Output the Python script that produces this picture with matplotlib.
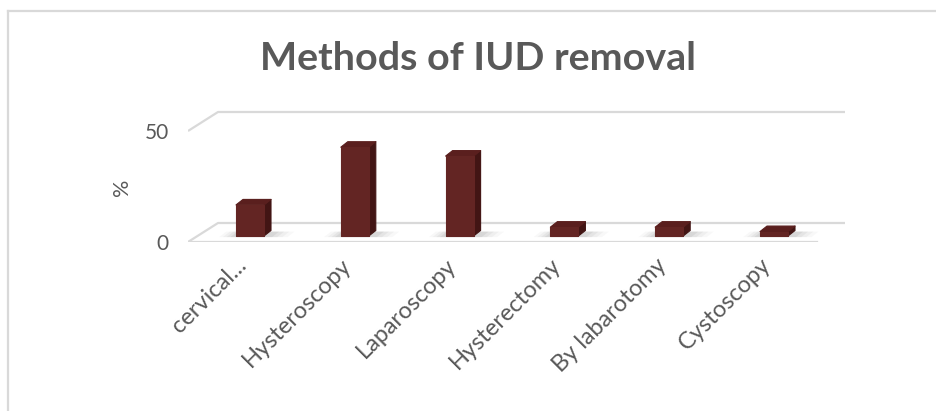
import matplotlib
matplotlib.use("Agg")
import matplotlib.pyplot as plt
from matplotlib.patches import Polygon
from matplotlib.lines import Line2D
from matplotlib.transforms import ScaledTranslation

# データ
methods = ["cervical...", "Hysteroscopy", "Laparoscopy", "Hysterectomy", "By labarotomy", "Cystoscopy"]
percent = [14, 40, 36, 4, 4, 2]
y_ticks = [0, 50]

plt.rcParams['font.family'] = ['Lato', 'DejaVu Sans']
text_color = '#595959'
grid_color = '#d9d9d9'

W, H = 937, 411
fig = plt.figure(figsize=(W / 100, H / 100), dpi=100)

# 描画領域 (ピクセルで指定)
px_left, px_right, px_bottom, px_top = 188, 845, 242, 100
ax = fig.add_axes([px_left / W, 1 - px_bottom / H, (px_right - px_left) / W, (px_bottom - px_top) / H])
cat_px = 104.8          # 1カテゴリのピクセル幅
val_px = 2.22           # 1%のピクセル高さ
x_first = 250           # 最初の棒の中心
xmin = (px_left - x_first) / cat_px
xmax = (px_right - x_first) / cat_px
ymax = (px_bottom - px_top) / val_px
ax.set_xlim(xmin, xmax)
ax.set_ylim(0, ymax)
for s in ax.spines.values():
    s.set_visible(False)
ax.patch.set_alpha(0)

# 奥行き (床と壁)
depth_dx = 30 / cat_px
depth_dy = 19 / val_px
front_right = (817 - x_first) / cat_px
for v in y_ticks:
    ax.plot([xmin, xmin + depth_dx, xmax], [v, v + depth_dy, v + depth_dy],
            color=grid_color, lw=1.6, solid_capstyle='butt', zorder=1)
ax.plot([xmin, front_right], [0, 0], color=grid_color, lw=1.6, zorder=1)

# 棒 (疑似3D)
w = 28 / cat_px
bdx = 7 / cat_px
bdy = 5.5 / val_px
base = 6 / val_px
front_c = '#632523'
side_c = '#421514'
top_c = '#5a1f1e'
for i, v in enumerate(percent):
    x0, x1 = i - w / 2, i + w / 2
    y0, y1 = base, base + v
    # 影
    for k, a in enumerate([0.05, 0.07, 0.09, 0.12]):
        e = 0.16 - k * 0.035
        ax.add_patch(Polygon([(x0 - e, y0 - 0.5), (x1 + e * 1.4, y0 - 0.5),
                              (x1 + e * 1.4 + bdx, y0 + bdy * 0.8), (x0 - e + bdx, y0 + bdy * 0.8)],
                             closed=True, fc='#7f7f7f', ec='none', alpha=a, zorder=2))
    ax.add_patch(Polygon([(x0, y0), (x1, y0), (x1, y1), (x0, y1)], closed=True,
                         fc=front_c, ec=front_c, lw=0.8, joinstyle='round', zorder=4))
    ax.add_patch(Polygon([(x1, y0), (x1 + bdx, y0 + bdy), (x1 + bdx, y1 + bdy), (x1, y1)], closed=True,
                         fc=side_c, ec=side_c, lw=0.8, joinstyle='round', zorder=3))
    ax.add_patch(Polygon([(x0, y1), (x1, y1), (x1 + bdx, y1 + bdy), (x0 + bdx, y1 + bdy)], closed=True,
                         fc=top_c, ec=top_c, lw=0.8, joinstyle='round', zorder=3))

# 軸ラベル
ax.set_yticks(y_ticks)
ax.set_yticklabels([str(t) for t in y_ticks], fontsize=15, color=text_color)
ax.tick_params(axis='y', length=0, pad=14)
ax.set_xticks(range(len(methods)))
ax.set_xticklabels(methods, rotation=45, ha='right', va='top', rotation_mode='anchor',
                   fontsize=17, color=text_color)
ax.tick_params(axis='x', length=0, pad=9)
shift = ScaledTranslation(-14 / 100, 0, fig.dpi_scale_trans)
for lbl in ax.get_xticklabels():
    lbl.set_transform(lbl.get_transform() + shift)
ax.set_ylabel('%', fontsize=15.5, color=text_color)
ax.yaxis.set_label_coords((132 - px_left) / (px_right - px_left), (px_bottom - 187) / (px_bottom - px_top))

# タイトル
fig.text(478 / W, 1 - 58 / H, 'Methods of IUD removal', ha='center', va='center',
         fontsize=28.4, fontweight='bold', color=text_color)

# 枠線
fig.add_artist(Line2D([8.5 / W, 8.5 / W], [0, 1 - 11 / H], color=grid_color, lw=1.6))
fig.add_artist(Line2D([8.5 / W, 1], [1 - 11 / H, 1 - 11 / H], color=grid_color, lw=1.6))

fig.savefig('out.png', dpi=100)
